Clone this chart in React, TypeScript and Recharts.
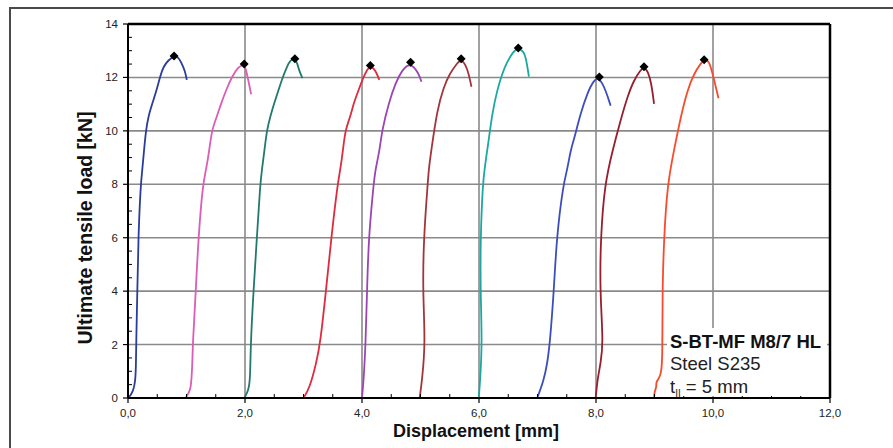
import React from 'react';
import { ComposedChart, Line, Scatter, XAxis, YAxis, CartesianGrid, ReferenceLine } from 'recharts';

// displacement [mm] / load [kN] pairs
const specimen1: [number, number][] = [
  [0.005, 0], [0.086, 0.22], [0.13, 0.67], [0.137, 1.42], [0.14, 2.05], [0.16, 4.0], [0.176, 6.0],
  [0.217, 8.01], [0.245, 8.54], [0.274, 9.28], [0.308, 10.03], [0.347, 10.53], [0.416, 11.03],
  [0.49, 11.53], [0.548, 12.03], [0.604, 12.4], [0.69, 12.65], [0.787, 12.8], [0.856, 12.77],
  [0.907, 12.58], [0.976, 12.24], [1.005, 11.91],
];
const specimen2: [number, number][] = [
  [0.988, 0], [1.032, 0.19], [1.073, 0.3], [1.1, 1.2], [1.107, 2.05], [1.159, 4.0], [1.203, 6.0],
  [1.279, 8.01], [1.335, 8.54], [1.39, 9.28], [1.433, 10.03], [1.518, 10.53], [1.592, 11.03],
  [1.678, 11.53], [1.776, 12.03], [1.888, 12.4], [1.95, 12.45], [1.986, 12.48], [2.02, 12.28],
  [2.071, 11.73], [2.105, 11.37],
];
const specimen3: [number, number][] = [
  [1.991, 0], [2.06, 0.3], [2.088, 0.67], [2.097, 2.05], [2.145, 4.0], [2.203, 6.0], [2.26, 8.01],
  [2.289, 8.54], [2.333, 9.28], [2.374, 10.03], [2.431, 10.53], [2.499, 11.03], [2.573, 11.53],
  [2.648, 12.03], [2.717, 12.4], [2.773, 12.65], [2.853, 12.7], [2.893, 12.54], [2.927, 12.24],
  [2.984, 11.97],
];
const specimen4: [number, number][] = [
  [3.0, 0], [3.103, 0.36], [3.218, 1.3], [3.287, 2.05], [3.384, 4.0], [3.475, 6.0], [3.583, 8.01],
  [3.629, 8.54], [3.675, 9.28], [3.714, 10.03], [3.8, 10.53], [3.857, 11.03], [3.942, 11.53],
  [4.028, 12.03], [4.09, 12.3], [4.142, 12.45], [4.228, 12.28], [4.296, 11.91],
];
const specimen5: [number, number][] = [
  [4.0, 0], [4.028, 0.67], [4.062, 2.05], [4.086, 4.0], [4.113, 6.0], [4.199, 8.01], [4.228, 8.54],
  [4.302, 9.28], [4.343, 10.03], [4.456, 11.03], [4.57, 11.78], [4.685, 12.28], [4.827, 12.57],
  [4.969, 12.16], [5.015, 11.84],
];
const specimen6: [number, number][] = [
  [4.986, 0], [5.027, 0.67], [5.084, 2.05], [5.038, 4.0], [5.055, 6.0], [5.123, 8.01], [5.14, 8.54],
  [5.185, 9.28], [5.284, 10.78], [5.397, 11.65], [5.5, 12.15], [5.626, 12.53], [5.695, 12.7],
  [5.798, 12.4], [5.871, 11.65],
];
const specimen7: [number, number][] = [
  [5.996, 0], [6.02, 0.67], [6.054, 2.05], [6.025, 4.0], [6.025, 6.0], [6.065, 8.01], [6.094, 8.54],
  [6.14, 9.28], [6.167, 9.66], [6.226, 10.66], [6.311, 11.53], [6.397, 12.15], [6.482, 12.59],
  [6.585, 12.97], [6.671, 13.1], [6.767, 12.97], [6.809, 12.66], [6.853, 12.03],
];
const specimen8: [number, number][] = [
  [6.996, 0], [7.109, 0.67], [7.167, 1.3], [7.212, 2.05], [7.28, 4.0], [7.326, 6.0], [7.441, 8.01],
  [7.509, 8.54], [7.566, 9.28], [7.622, 9.66], [7.737, 10.66], [7.851, 11.41], [7.964, 11.91],
  [8.057, 12.0], [8.165, 11.53], [8.25, 10.94],
];
const specimen9: [number, number][] = [
  [7.994, 0], [8.023, 0.67], [8.079, 1.3], [8.126, 2.05], [8.067, 4.0], [8.079, 6.0], [8.148, 8.01],
  [8.285, 9.28], [8.422, 10.41], [8.537, 11.28], [8.65, 11.91], [8.764, 12.28], [8.821, 12.4],
  [8.889, 12.22], [8.947, 11.78], [8.992, 11.01],
];
const specimen10: [number, number][] = [
  [8.992, 0], [9.0, 0.25], [9.038, 0.42], [9.02, 0.6], [9.106, 0.8], [9.13, 1.3], [9.135, 2.05],
  [9.135, 4.0], [9.162, 6.0], [9.221, 8.01], [9.334, 9.28], [9.449, 10.53], [9.563, 11.53],
  [9.677, 12.15], [9.792, 12.53], [9.848, 12.66], [9.934, 12.66], [10.019, 11.91], [10.094, 11.22],
];

// ultimate load of each specimen (black diamonds)
const peaks: [number, number][] = [
  [0.787, 12.8], [1.986, 12.5], [2.853, 12.7], [4.142, 12.45], [4.83, 12.57],
  [5.695, 12.7], [6.671, 13.1], [8.057, 12.02], [8.821, 12.4], [9.848, 12.66],
];

const curves = [specimen1, specimen2, specimen3, specimen4, specimen5, specimen6, specimen7, specimen8, specimen9, specimen10];
const colors = ['#2a3c9c', '#dd5cb5', '#217a6c', '#de2b3f', '#9b45b5', '#a4343a', '#1ba8a0', '#3d4dbe', '#981e2e', '#f94b2c'];

const xTicks = [0, 0.5, 1, 1.5, 2, 2.5, 3, 3.5, 4, 4.5, 5, 5.5, 6, 6.5, 7, 7.5, 8, 8.5, 9, 9.5, 10, 10.5, 11, 11.5, 12];
const yTicks = [0, 0.5, 1, 1.5, 2, 2.5, 3, 3.5, 4, 4.5, 5, 5.5, 6, 6.5, 7, 7.5, 8, 8.5, 9, 9.5, 10, 10.5, 11, 11.5, 12, 12.5, 13, 13.5, 14];
const xGrid = [2, 4, 6, 8, 10];
const yGrid = [2, 4, 6, 8, 10, 12];

const font = '"Liberation Sans", Arial, sans-serif';

const toPoints = (pts: [number, number][]) => pts.map(([d, f]) => ({ d, f }));

const XTick = (props: any) => {
  const { x, y, payload } = props;
  const v = payload.value;
  const major = v % 2 === 0;
  if (!major) return <line x1={x} x2={x} y1={y} y2={y - 4} stroke="#000" strokeWidth={1} />;
  return (
    <g>
      <line x1={x} x2={x} y1={y} y2={y + 5} stroke="#000" strokeWidth={1.2} />
      <text x={x} y={y + 19} textAnchor="middle" fontSize={11.5} fill="#222" fontFamily={font}>
        {v.toFixed(1).replace('.', ',')}
      </text>
    </g>
  );
};

const YTick = (props: any) => {
  const { x, y, payload } = props;
  const v = payload.value;
  const major = v % 2 === 0;
  if (!major) return <line x1={x} x2={x + 4} y1={y} y2={y} stroke="#000" strokeWidth={1} />;
  return (
    <g>
      <line x1={x - 5} x2={x} y1={y} y2={y} stroke="#000" strokeWidth={1.2} />
      <text x={x - 10} y={y + 4} textAnchor="end" fontSize={11.5} fill="#222" fontFamily={font}>
        {v}
      </text>
    </g>
  );
};

const Diamond = (props: any) => {
  const { cx, cy } = props;
  const r = 4.5;
  return <polygon points={`${cx},${cy - r} ${cx + r},${cy} ${cx},${cy + r} ${cx - r},${cy}`} fill="#000" />;
};

export default function App() {
  return (
    <div style={{ position: 'absolute', left: 0, top: 0, width: 893, height: 448, overflow: 'hidden', background: '#fff', fontFamily: font }}>
      <div style={{ position: 'absolute', left: 9, top: 7, width: 900, height: 470, border: '2px solid #4a4a4a' }} />
      <ComposedChart width={893} height={448} margin={{ top: 24, right: 63, bottom: 0, left: 0 }}>
        <CartesianGrid verticalValues={xGrid} horizontalValues={yGrid} stroke="#8a8a8a" strokeWidth={1.6} />
        <XAxis
          type="number"
          dataKey="d"
          domain={[0, 12]}
          ticks={xTicks}
          interval={0}
          allowDataOverflow
          height={50}
          tickSize={0}
          tickMargin={0}
          tickLine={false}
          axisLine={{ stroke: '#000', strokeWidth: 2 }}
          tick={XTick}
        />
        <YAxis
          type="number"
          domain={[0, 14]}
          ticks={yTicks}
          interval={0}
          allowDataOverflow
          width={128}
          tickSize={0}
          tickMargin={0}
          tickLine={false}
          axisLine={{ stroke: '#000', strokeWidth: 2 }}
          tick={YTick}
        />
        <ReferenceLine y={14} stroke="#000" strokeWidth={2.5} />
        <ReferenceLine x={12} stroke="#000" strokeWidth={2.5} />
        {curves.map((c, i) => (
          <Line
            key={i}
            data={toPoints(c)}
            dataKey="f"
            type="basis"
            stroke={colors[i]}
            strokeWidth={1.8}
            dot={false}
            activeDot={false}
            isAnimationActive={false}
          />
        ))}
        <Scatter data={toPoints(peaks)} dataKey="f" shape={Diamond} isAnimationActive={false} />
      </ComposedChart>
      <div
        style={{
          position: 'absolute',
          left: 85,
          top: 228,
          transform: 'translate(-50%, -50%) rotate(-90deg)',
          whiteSpace: 'nowrap',
          fontWeight: 'bold',
          fontSize: 19.5,
          color: '#111',
        }}
      >
        Ultimate tensile load [kN]
      </div>
      <div
        style={{
          position: 'absolute',
          left: 476,
          top: 431,
          transform: 'translate(-50%, -50%)',
          whiteSpace: 'nowrap',
          fontWeight: 'bold',
          fontSize: 18,
          color: '#111',
        }}
      >
        Displacement [mm]
      </div>
      <svg width={893} height={448} style={{ position: 'absolute', left: 0, top: 0, pointerEvents: 'none' }}>
        <rect x={667} y={328} width={160} height={68} fill="#fff" />
        <text x={670} y={348} fontSize={18.5} fontWeight="bold" fill="#111" fontFamily={font}>S-BT-MF M8/7 HL</text>
        <text x={670} y={370} fontSize={18.5} fill="#222" fontFamily={font}>Steel S235</text>
        <text x={670} y={392.5} fontSize={18.5} fill="#222" fontFamily={font}>
          t<tspan fontSize={10} dy={4}>II</tspan><tspan dy={-4}> = 5 mm</tspan>
        </text>
      </svg>
    </div>
  );
}
